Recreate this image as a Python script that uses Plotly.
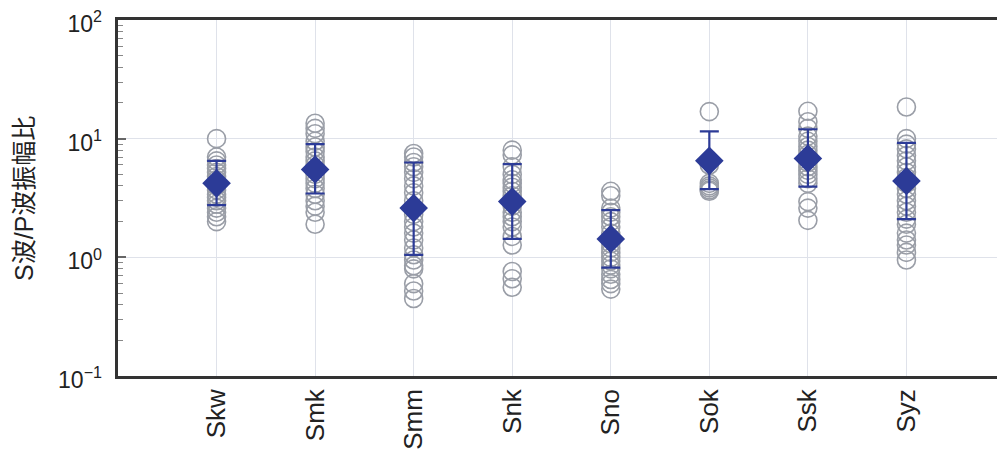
import plotly.graph_objects as go

stations = ["Skw", "Smk", "Smm", "Snk", "Sno", "Sok", "Ssk", "Syz"]

ratios_skw = [10.0, 7.0, 6.5, 6.0, 5.6, 5.2, 4.8, 4.5, 4.2, 4.0, 3.7, 3.4, 3.2, 3.0, 2.8, 2.6, 2.4, 2.2, 2.0]
ratios_smk = [13.5, 12.2, 11.0, 9.5, 8.5, 7.8, 7.0, 6.5, 6.0, 5.5, 5.0, 4.6, 4.2, 3.8, 3.4, 3.0, 2.7, 2.4, 1.9]
ratios_smm = [7.5, 7.0, 6.3, 5.8, 5.2, 4.6, 4.0, 3.5, 3.0, 2.6, 2.3, 2.0, 1.8, 1.6, 1.4, 1.2, 1.05, 0.95, 0.85, 0.80, 0.60, 0.52, 0.45]
ratios_snk = [8.0, 7.3, 5.8, 5.0, 4.5, 4.2, 3.9, 3.6, 3.3, 3.0, 2.7, 2.4, 2.2, 2.0, 1.8, 1.5, 1.27, 0.76, 0.66, 0.56]
ratios_sno = [3.6, 3.3, 2.6, 2.4, 2.2, 2.0, 1.8, 1.6, 1.45, 1.3, 1.2, 1.1, 1.0, 0.93, 0.86, 0.80, 0.72, 0.65, 0.60, 0.54]
ratios_sok = [16.9, 6.0, 4.2, 4.0, 3.85, 3.7, 3.6]
ratios_ssk = [17.0, 13.9, 12.2, 10.5, 9.5, 8.6, 8.0, 7.4, 6.8, 6.3, 5.8, 5.4, 5.0, 4.6, 4.2, 2.95, 2.6, 2.05]
ratios_syz = [18.5, 10.0, 9.0, 8.2, 7.2, 6.5, 5.8, 5.2, 4.7, 4.2, 3.8, 3.4, 3.0, 2.7, 2.4, 2.1, 1.9, 1.6, 1.4, 1.27, 1.1, 0.95]

mean_ratio = [4.2, 5.5, 2.6, 2.95, 1.43, 6.5, 6.8, 4.4]
upper_ratio = [6.5, 9.0, 6.3, 6.1, 2.5, 11.5, 12.0, 9.2]
lower_ratio = [2.75, 3.45, 1.05, 1.43, 0.82, 3.75, 3.95, 2.1]

y_title = "S波/P波振幅比"
y_major = [0.1, 1, 10, 100]
y_major_text = ["10<sup>−1</sup>", "10<sup>0</sup>", "10<sup>1</sup>", "10<sup>2</sup>"]

all_ratios = [ratios_skw, ratios_smk, ratios_smm, ratios_snk, ratios_sno, ratios_sok, ratios_ssk, ratios_syz]

xs, ys = [], []
for i, vals in enumerate(all_ratios):
    xs += [i] * len(vals)
    ys += vals

fig = go.Figure()
fig.add_trace(go.Scatter(
    x=xs, y=ys, mode="markers",
    marker=dict(symbol="circle-open", size=18, color="#9a9ea7", line=dict(width=1.6)),
    showlegend=False, hoverinfo="y",
))
err_plus = [u - m for u, m in zip(upper_ratio, mean_ratio)]
err_minus = [m - l for m, l in zip(mean_ratio, lower_ratio)]
fig.add_trace(go.Scatter(
    x=list(range(len(stations))), y=mean_ratio, mode="markers",
    marker=dict(symbol="diamond", size=22, color="#2c3b97"),
    error_y=dict(type="data", symmetric=False, array=err_plus, arrayminus=err_minus,
                 color="#2c3b97", thickness=2.2, width=9.5),
    showlegend=False,
))
# invisible helper traces so the overlay axes are drawn
for ax in ("y2", "y3"):
    fig.add_trace(go.Scatter(x=[None], y=[None], yaxis=ax, showlegend=False, hoverinfo="skip"))

minor_vals = [k * 10 ** e for e in (-1, 0, 1) for k in range(2, 10)]
font_fam = "Liberation Sans, Arial, Noto Sans CJK JP"

fig.update_layout(
    width=997, height=442,
    margin=dict(l=110, r=0, t=12, b=74, autoexpand=False),
    paper_bgcolor="white", plot_bgcolor="white",
    font=dict(family=font_fam, size=22, color="#222"),
    xaxis=dict(
        range=[-1, 8], tickmode="array", tickvals=list(range(len(stations))), ticktext=stations,
        tickangle=-90, showgrid=True, gridcolor="#dfe2ea", gridwidth=1,
        showline=True, linecolor="#333", linewidth=2.5, mirror=True,
        ticks="", zeroline=False, tickfont=dict(size=26), automargin=False,
    ),
    yaxis=dict(
        type="log", range=[-1, 2], tickmode="array", tickvals=y_major, ticktext=y_major_text,
        showgrid=True, gridcolor="#dfe2ea", gridwidth=1,
        showline=False, mirror="ticks",
        ticks="inside", ticklen=8, tickcolor="#666", tickwidth=1.5,
        tickfont=dict(size=23), ticklabelstandoff=15, ticklabelshift=4,
        ticklabeloverflow="allow",
        zeroline=False, automargin=False,
    ),
    yaxis2=dict(
        type="log", range=[-1, 2], overlaying="y", side="left",
        tickmode="array", tickvals=minor_vals, showticklabels=False,
        ticks="inside", ticklen=5, tickcolor="#888", tickwidth=1.3,
        showline=False, mirror="ticks", showgrid=False, zeroline=False,
    ),
    yaxis3=dict(
        type="log", range=[-1, 2], overlaying="y", side="left",
        showticklabels=False, ticks="", showgrid=False, zeroline=False,
        showline=True, linecolor="#333", linewidth=2.5, mirror=False,
    ),
    annotations=[dict(
        text=y_title, xref="paper", yref="paper", x=-0.106, y=0.5,
        xanchor="center", yanchor="middle", textangle=-90, showarrow=False,
        font=dict(size=25, family=font_fam, color="#222"),
    )],
)

fig.write_html("out.html")
